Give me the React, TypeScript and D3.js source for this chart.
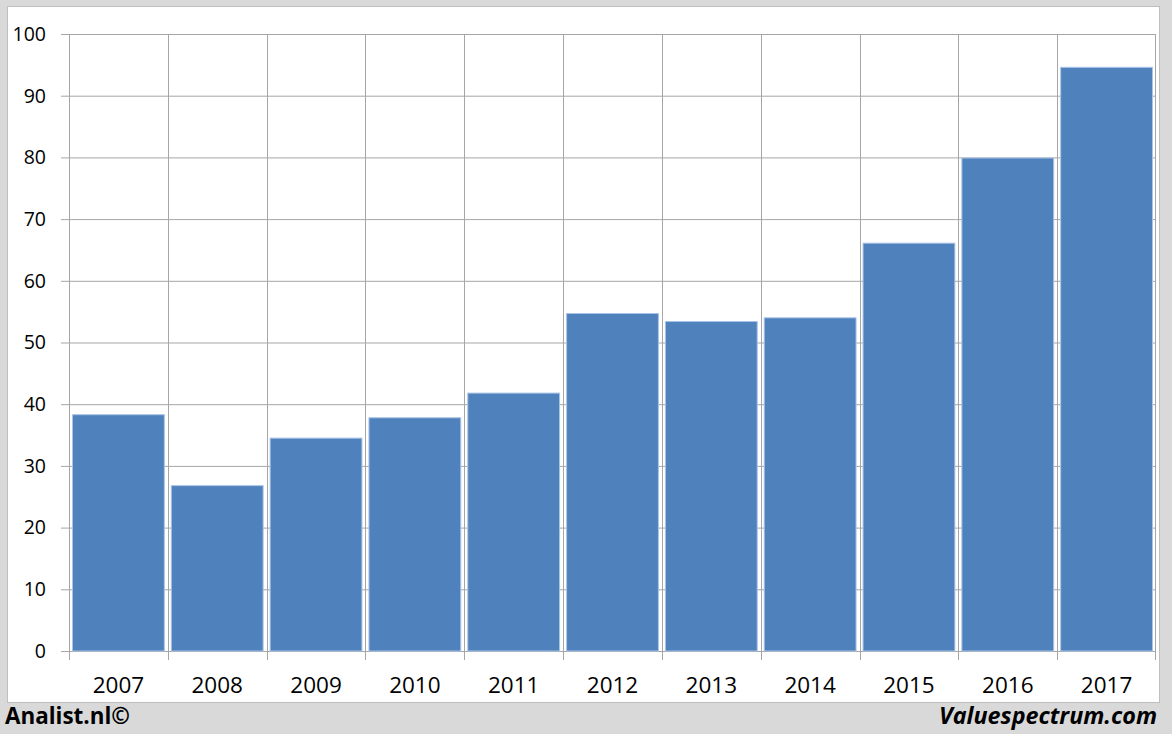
import React from "react";
import * as d3 from "d3";

const categories = ["2007","2008","2009","2010","2011","2012","2013","2014","2015","2016","2017"];
const values = [38.3, 26.8, 34.5, 37.8, 41.8, 54.7, 53.4, 54.0, 66.1, 79.9, 94.6];
const yTicks = [0,10,20,30,40,50,60,70,80,90,100];

const W = 1172, H = 734;
const left = 69, right = 1156, top = 34, bottom = 651;
const font = "Open Sans, Liberation Sans, sans-serif";

export default function App() {
  const xb = d3.scaleBand<string>().domain(categories).range([left, right]);
  const y = d3.scaleLinear().domain([0, 100]).range([bottom, top]);
  const grid = "#a6a6a6";
  const inset = 3.5;
  return (
    <svg width={W} height={H} style={{ position: "absolute", left: 0, top: 0 }}>
      <rect x={0} y={0} width={W} height={H} fill="#d9d9d9" />
      <rect x={7.5} y={6.5} width={1152} height={696} fill="#fff" stroke="#bfbfbf" />
      {yTicks.map(t => (
        <g key={t}>
          <line x1={61} x2={right} y1={y(t) + 0.5} y2={y(t) + 0.5} stroke={grid} />
          <text x={46} y={y(t)} dy="0.35em" textAnchor="end" fontFamily={font} fontSize={19.5} fill="#000">{t}</text>
        </g>
      ))}
      {categories.map(c => (
        <line key={c} x1={Math.round(xb(c)!) + 0.5} x2={Math.round(xb(c)!) + 0.5} y1={top} y2={660} stroke={grid} />
      ))}
      <line x1={right - 0.5} x2={right - 0.5} y1={top} y2={660} stroke={grid} />
      {categories.map((c, i) => (
        <rect key={c} x={xb(c)! + inset} y={y(values[i])} width={xb.bandwidth() - 2 * inset} height={bottom - y(values[i])}
          fill="#4f81bd" stroke="#a9c4e6" strokeWidth={1} />
      ))}
      {categories.map(c => (
        <text key={c} x={xb(c)! + xb.bandwidth() / 2} y={693} textAnchor="middle" fontFamily={font} fontSize={22.5} fill="#000">{c}</text>
      ))}
      <text x={5} y={723.5} fontFamily={font} fontSize={22.5} fontWeight="bold" fill="#000" textLength={125} lengthAdjust="spacingAndGlyphs">Analist.nl©</text>
      <text x={939} y={724} fontFamily={font} fontSize={22.5} fontWeight="bold" fontStyle="italic" fill="#000" textLength={218} lengthAdjust="spacingAndGlyphs">Valuespectrum.com</text>
    </svg>
  );
}
